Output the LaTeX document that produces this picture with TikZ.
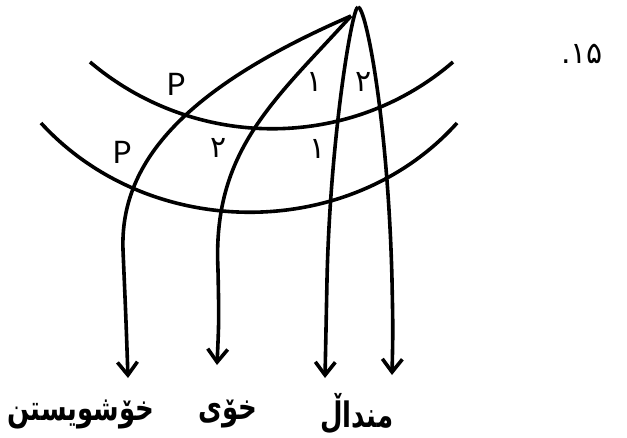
\documentclass[tikz,border=0pt]{standalone}
\usepackage{fontspec}
\usepackage{tikz}
\usetikzlibrary{arrows.meta}
\setmainfont{Lato}
\newfontfamily\arabicfont[Script=Arabic]{DejaVu Sans}
\newfontfamily\numfont{DejaVu Sans}
\TeXXeTstate=1

\begin{document}
\begin{tikzpicture}[x=1pt, y=-1pt,
    arc/.style={line width=3.6pt, black},
    arr/.style={line width=3.6pt, black, -{Straight Barb[length=13pt, width=20pt]}},
    letter/.style={font=\fontsize{31}{33}\selectfont, inner sep=0pt},
    digit/.style={font=\arabicfont\fontsize{30}{32}\selectfont, inner sep=0pt},
    word/.style={font=\arabicfont\bfseries\fontsize{26}{30}\selectfont, inner sep=0pt},
]
\useasboundingbox (0,0) rectangle (627,437);

\coordinate (apex) at (358,7);
\coordinate (fork) at (351,16);
\coordinate (end1) at (128,378);
\coordinate (end2) at (217,365);
\coordinate (end3) at (325,378);
\coordinate (end4) at (392,375);
\coordinate (ua1) at (90,62);
\coordinate (ua2) at (453,62);
\coordinate (la1) at (41,123);
\coordinate (la2) at (457,123);

\draw[arc] (ua1) .. controls (195,151) and (350,151) .. (ua2);
\draw[arc] (la1) .. controls (150,242) and (350,242) .. (la2);

\draw[arr] (fork) .. controls (180,90) and (120,165) .. (123,250) .. controls (126,320) .. (end1);
\draw[arr] (fork) .. controls (275,100) and (212,150) .. (218,270) .. controls (219,320) .. (end2);
\draw[arr] (apex) .. controls (352,7) and (330,140) .. (327,280) .. controls (326,330) .. (end3);
\draw[arr] (apex) .. controls (366,7) and (388,120) .. (392,280) .. controls (393,330) .. (end4);

\node[letter] (p1) at (176,84) {P};
\node[letter] (p2) at (122,152) {P};
\node[digit] (u1) at (315,82) {۱};
\node[digit] (u2) at (364,82) {۲};
\node[digit] (l2) at (219,148) {۲};
\node[digit] (l1) at (318,149) {۱};
\node[font=\numfont\fontsize{30}{32}\selectfont, inner sep=0pt] (num) at (582,54) {.۱۵};

\node[word] (w1) at (81,414) {\scalebox{1}[1.35]{\beginR خۆشویستن\endR}};
\node[word] (w2) at (228,414) {\scalebox{1}[1.35]{\beginR خۆی\endR}};
\node[word] (w3) at (357,414) {\scalebox{1}[1.35]{\beginR منداڵ\endR}};
\end{tikzpicture}
\end{document}
